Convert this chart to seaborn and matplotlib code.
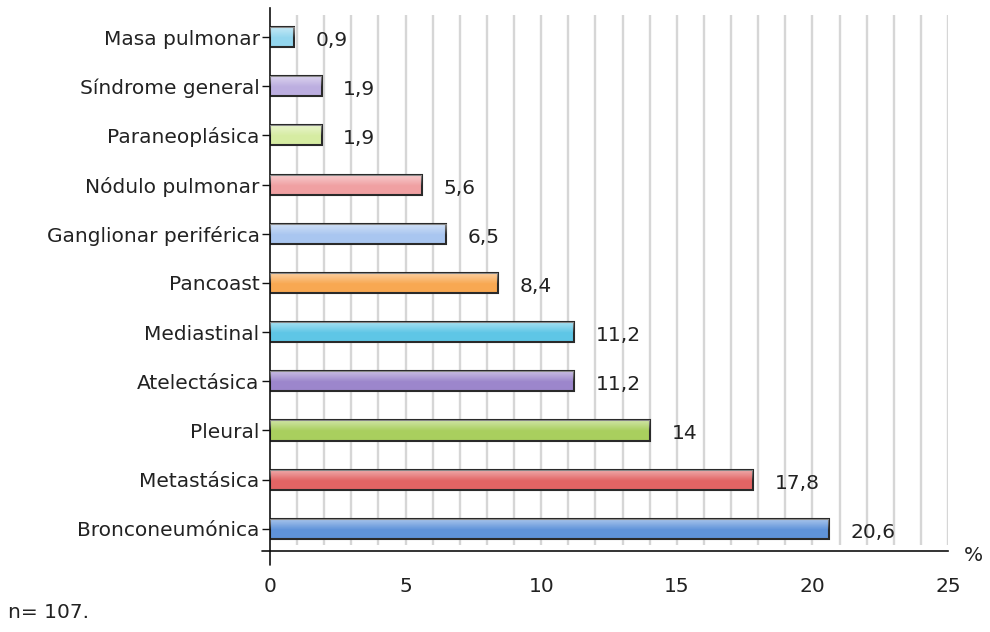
import matplotlib
matplotlib.use("Agg")
import matplotlib.pyplot as plt
import numpy as np
import pandas as pd
import seaborn as sns

categories = ["Masa pulmonar", "Síndrome general", "Paraneoplásica", "Nódulo pulmonar",
              "Ganglionar periférica", "Pancoast", "Mediastinal", "Atelectásica",
              "Pleural", "Metastásica", "Bronconeumónica"]
values = [0.9, 1.9, 1.9, 5.6, 6.5, 8.4, 11.2, 11.2, 14, 17.8, 20.6]
value_labels = ["0,9", "1,9", "1,9", "5,6", "6,5", "8,4", "11,2", "11,2", "14", "17,8", "20,6"]
colors = ["#93d6ee", "#bcaee0", "#d6eca2", "#f0a0a2", "#a9c6f0", "#f8a852",
          "#5ec6e6", "#9c86cc", "#a9cf5e", "#e26464", "#5f93da"]
x_ticks = [0, 5, 10, 15, 20, 25]

df = pd.DataFrame({"categoria": categories, "valor": values})

sns.set_theme(style="white")
plt.rcParams["font.family"] = ["DejaVu Sans"]
FS = 14.5

fig = plt.figure(figsize=(9.9, 6.32), dpi=100)
ax = fig.add_axes([0.2727, 0.1282, 0.9576 - 0.2727, 0.9873 - 0.1282])

# vertical guide lines at every unit
ax.vlines(np.arange(1, 26), -0.45, 10.33, colors="#d6d6d6", linewidth=1.7, zorder=0)

sns.barplot(data=df, x="valor", y="categoria", hue="categoria", palette=colors,
            orient="h", width=0.41, legend=False, ax=ax, zorder=2,
            edgecolor="#2a2a2a", linewidth=1.5, saturation=1)

# soft highlight on the upper half of each bar
grad = np.linspace(0.5, 0.0, 64).reshape(-1, 1)
white = np.ones((64, 1, 4))
white[..., 3] = grad
for p in ax.patches:
    x0, y0 = p.get_x(), p.get_y()
    w, h = p.get_width(), p.get_height()
    im = ax.imshow(white, extent=(x0, x0 + w, y0 + h * 0.55, y0), aspect="auto",
                   zorder=3, interpolation="bilinear")
    im.set_clip_path(p)

for i, (v, lab) in enumerate(zip(values, value_labels)):
    ax.text(v + 0.8, i + 0.07, lab, ha="left", va="center", fontsize=FS, color="#222222")

ax.set_xlim(0, 25)
ax.set_ylim(10.45, -0.59)
ax.set_xticks(x_ticks)
ax.set_xticklabels([str(t) for t in x_ticks])
ax.set_xlabel("")
ax.set_ylabel("")
ax.tick_params(axis="y", length=6, width=1, color="#111111", pad=1.5, labelsize=FS,
               labelcolor="#222222", left=True)
ax.tick_params(axis="x", length=0, pad=19, labelsize=FS, labelcolor="#222222")

for s in ["top", "right"]:
    ax.spines[s].set_visible(False)
for s in ["left", "bottom"]:
    ax.spines[s].set_color("#111111")
    ax.spines[s].set_linewidth(1.2)

# axis lines extend past the origin
ax.plot([-0.3, 0], [10.45, 10.45], color="#111111", lw=1.2, clip_on=False)
ax.plot([0, 0], [10.45, 10.73], color="#111111", lw=1.2, clip_on=False)

ax.text(25.6, 10.55, "%", fontsize=FS, color="#222222", ha="left", va="center")
fig.text(8 / 990, 1 - 612 / 632, "n= 107.", fontsize=FS, color="#222222",
         ha="left", va="center")

fig.savefig("out.png", dpi=100, facecolor="white")
